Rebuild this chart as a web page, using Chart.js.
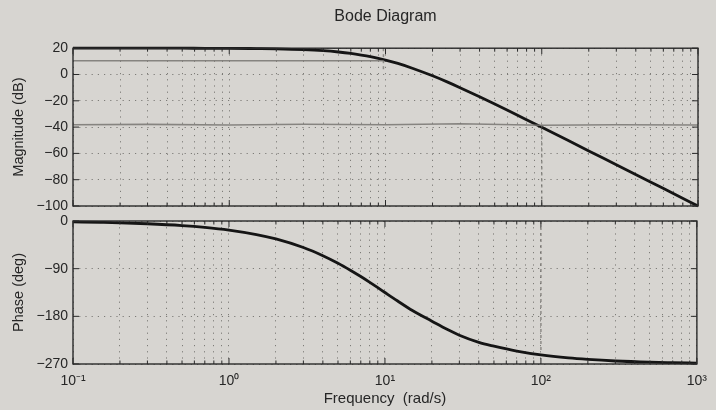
<!DOCTYPE html>
<html><head><meta charset="utf-8">
<script src="https://cdn.jsdelivr.net/npm/chart.js@4/dist/chart.umd.min.js"></script>
<style>
html,body{margin:0;padding:0;background:#d7d5d1;width:716px;height:410px;overflow:hidden}
#c1{position:absolute;left:0;top:0}
#c2{position:absolute;left:0;top:207px}
</style></head><body>
<canvas id="c1" width="716" height="220"></canvas>
<canvas id="c2" width="716" height="203"></canvas>
<script>
// frequencies (rad/s)
const freq = [0.1,0.15,0.2,0.3,0.5,0.7,1,1.5,2,3,4,5,6,7,8,9,10,12,15,20,25,30,40,50,70,100,150,200,300,500,700,1000];
const magnitudeDb = [20.0,20.0,20.0,20.0,20.0,19.9,19.9,19.7,19.5,18.9,18.1,17.1,16.0,14.8,13.6,12.3,11.0,8.4,4.6,-1.0,-5.8,-10.0,-16.9,-22.4,-31.0,-40.1,-50.6,-58.1,-68.6,-81.9,-90.7,-100.0];
const phaseDeg = [-1.7,-2.6,-3.4,-5.2,-8.6,-12.0,-17.1,-25.6,-33.9,-50.1,-65.5,-79.7,-92.9,-104.9,-115.9,-125.9,-135.0,-150.6,-169.0,-189.2,-204.6,-215.6,-229.1,-236.3,-245.6,-252.9,-258.6,-261.4,-264.3,-266.6,-267.5,-268.3];

// pencil marks on the printed page
const pencilHighFreq = [0.1, 9.7];
const pencilHighDb = [10.5, 10.5];
const pencilHighVFreq = [9.7, 9.7];
const pencilHighVDb = [20, 4];
const pencilLowFreq = [0.1, 0.3, 1, 3, 10, 30, 100, 300, 1000];
const pencilLowDb = [-38.2, -37.9, -38.4, -37.8, -38.2, -37.4, -38.6, -38.2, -38.4];
const pencilMagVFreq = [100, 100];
const pencilMagVDb = [-38, -100];
const pencilPhVFreq = [100, 100];
const pencilPhVDeg = [0, -245];

// ticks
const freqTicks = [0.1,0.2,0.3,0.4,0.5,0.6,0.7,0.8,0.9,1,2,3,4,5,6,7,8,9,10,20,30,40,50,60,70,80,90,100,200,300,400,500,600,700,800,900,1000];
const freqLabels = {0.1:'10\u207B\u00B9', 1:'10\u2070', 10:'10\u00B9', 100:'10\u00B2', 1000:'10\u00B3'};
const magTicks = [20,0,-20,-40,-60,-80,-100];
const phaseTicks = [0,-90,-180,-270];

const FONT = "'Liberation Sans', Arial, Helvetica, sans-serif";
const TXT = '#262626';
const GRID = 'rgba(95,93,90,0.75)';

function pts(xs, ys){ return xs.map((x,i)=>({x:x, y:ys[i]})); }
function minus(v){ return String(v).replace('-', '\u2212'); }

const boxPlugin = {
  id: 'box',
  afterDatasetsDraw(chart){
    const {ctx, chartArea:a, scales} = chart;
    ctx.save();
    ctx.strokeStyle = '#2a2a2a';
    ctx.lineWidth = 1;
    const line = (x1,y1,x2,y2)=>{ctx.beginPath();ctx.moveTo(x1,y1);ctx.lineTo(x2,y2);ctx.stroke();};
    scales.x.ticks.forEach(t=>{
      const px = scales.x.getPixelForValue(t.value);
      const len = freqLabels[t.value] ? 6 : 3.5;
      line(px, a.top, px, a.top+len);
      line(px, a.bottom, px, a.bottom-len);
    });
    scales.y.ticks.forEach(t=>{
      const py = scales.y.getPixelForValue(t.value);
      line(a.left, py, a.left+6, py);
      line(a.right, py, a.right-6, py);
    });
    ctx.lineWidth = 1.4;
    ctx.strokeRect(a.left, a.top, a.right-a.left, a.bottom-a.top);
    ctx.restore();
  }
};

function xScale(showLabels){
  return {
    type: 'logarithmic', min: 0.1, max: 1000,
    afterBuildTicks: s => { s.ticks = freqTicks.map(v => ({value: v, major: !!freqLabels[v]})); },
    afterFit: s => { s.height = showLabels ? 46 : 14; },
    grid: { color: GRID, lineWidth: 1, drawTicks: false },
    border: { display: false, dash: [1.2, 5] },
    ticks: {
      display: showLabels, autoSkip: false, maxRotation: 0, padding: 9,
      color: TXT, font: {family: FONT, size: 14},
      callback: v => freqLabels[v] || ''
    },
    title: showLabels ? { display: true, text: 'Frequency  (rad/s)', color: TXT,
      font: {family: FONT, size: 15}, padding: {top: 0, bottom: 2} } : {display: false}
  };
}

function yScale(min, max, ticks, titleText){
  return {
    type: 'linear', min: min, max: max,
    afterBuildTicks: s => { s.ticks = ticks.map(v => ({value: v})); },
    afterFit: s => { s.width = 73; },
    grid: { color: GRID, lineWidth: 1, drawTicks: false },
    border: { display: false, dash: [1.2, 5] },
    ticks: { color: TXT, font: {family: FONT, size: 14}, padding: 5, callback: v => minus(v) },
    title: { display: true, text: titleText, color: TXT, font: {family: FONT, size: 14.5}, padding: {top: 10, bottom: 0} }
  };
}

const curveStyle = { borderColor: '#151515', borderWidth: 2.8, pointRadius: 0, cubicInterpolationMode: 'monotone', clip: 4, fill: false };
const pencilStyle = { borderColor: 'rgba(120,118,114,0.85)', borderWidth: 1.6, pointRadius: 0, tension: 0, fill: false, clip: 4 };
const pencilDash = { borderColor: 'rgba(110,108,104,0.7)', borderWidth: 1.5, pointRadius: 0, borderDash: [3,3], fill: false, clip: 8 };

new Chart(document.getElementById('c1'), {
  type: 'line',
  data: { datasets: [
    Object.assign({ label: 'pencil high', data: pts(pencilHighFreq, pencilHighDb) }, pencilStyle),
    Object.assign({ label: 'pencil high v', data: pts(pencilHighVFreq, pencilHighVDb) }, pencilDash),
    Object.assign({ label: 'pencil low', data: pts(pencilLowFreq, pencilLowDb) }, pencilStyle),
    Object.assign({ label: 'pencil mag v', data: pts(pencilMagVFreq, pencilMagVDb) }, pencilDash),
    Object.assign({ label: 'Magnitude', data: pts(freq, magnitudeDb) }, curveStyle)
  ]},
  options: {
    responsive: false, animation: false,
    layout: { padding: { left: 0, right: 18, top: 0, bottom: 0 } },
    plugins: {
      legend: { display: false }, tooltip: { enabled: false },
      title: { display: true, text: 'Bode Diagram', color: TXT, fullSize: false,
        font: { family: FONT, size: 16, weight: 'normal' }, padding: { top: 7, bottom: 22 } }
    },
    scales: { x: xScale(false), y: yScale(-100, 20, magTicks, 'Magnitude (dB)') }
  },
  plugins: [boxPlugin]
});

new Chart(document.getElementById('c2'), {
  type: 'line',
  data: { datasets: [
    Object.assign({ label: 'pencil phase v', data: pts(pencilPhVFreq, pencilPhVDeg) }, pencilDash),
    Object.assign({ label: 'Phase', data: pts(freq, phaseDeg) }, curveStyle)
  ]},
  options: {
    responsive: false, animation: false,
    layout: { padding: { left: 0, right: 18, top: 14, bottom: 0 } },
    plugins: { legend: { display: false }, tooltip: { enabled: false }, title: { display: false } },
    scales: { x: xScale(true), y: yScale(-270, 0, phaseTicks, 'Phase (deg)') }
  },
  plugins: [boxPlugin]
});
</script>
</body></html>
